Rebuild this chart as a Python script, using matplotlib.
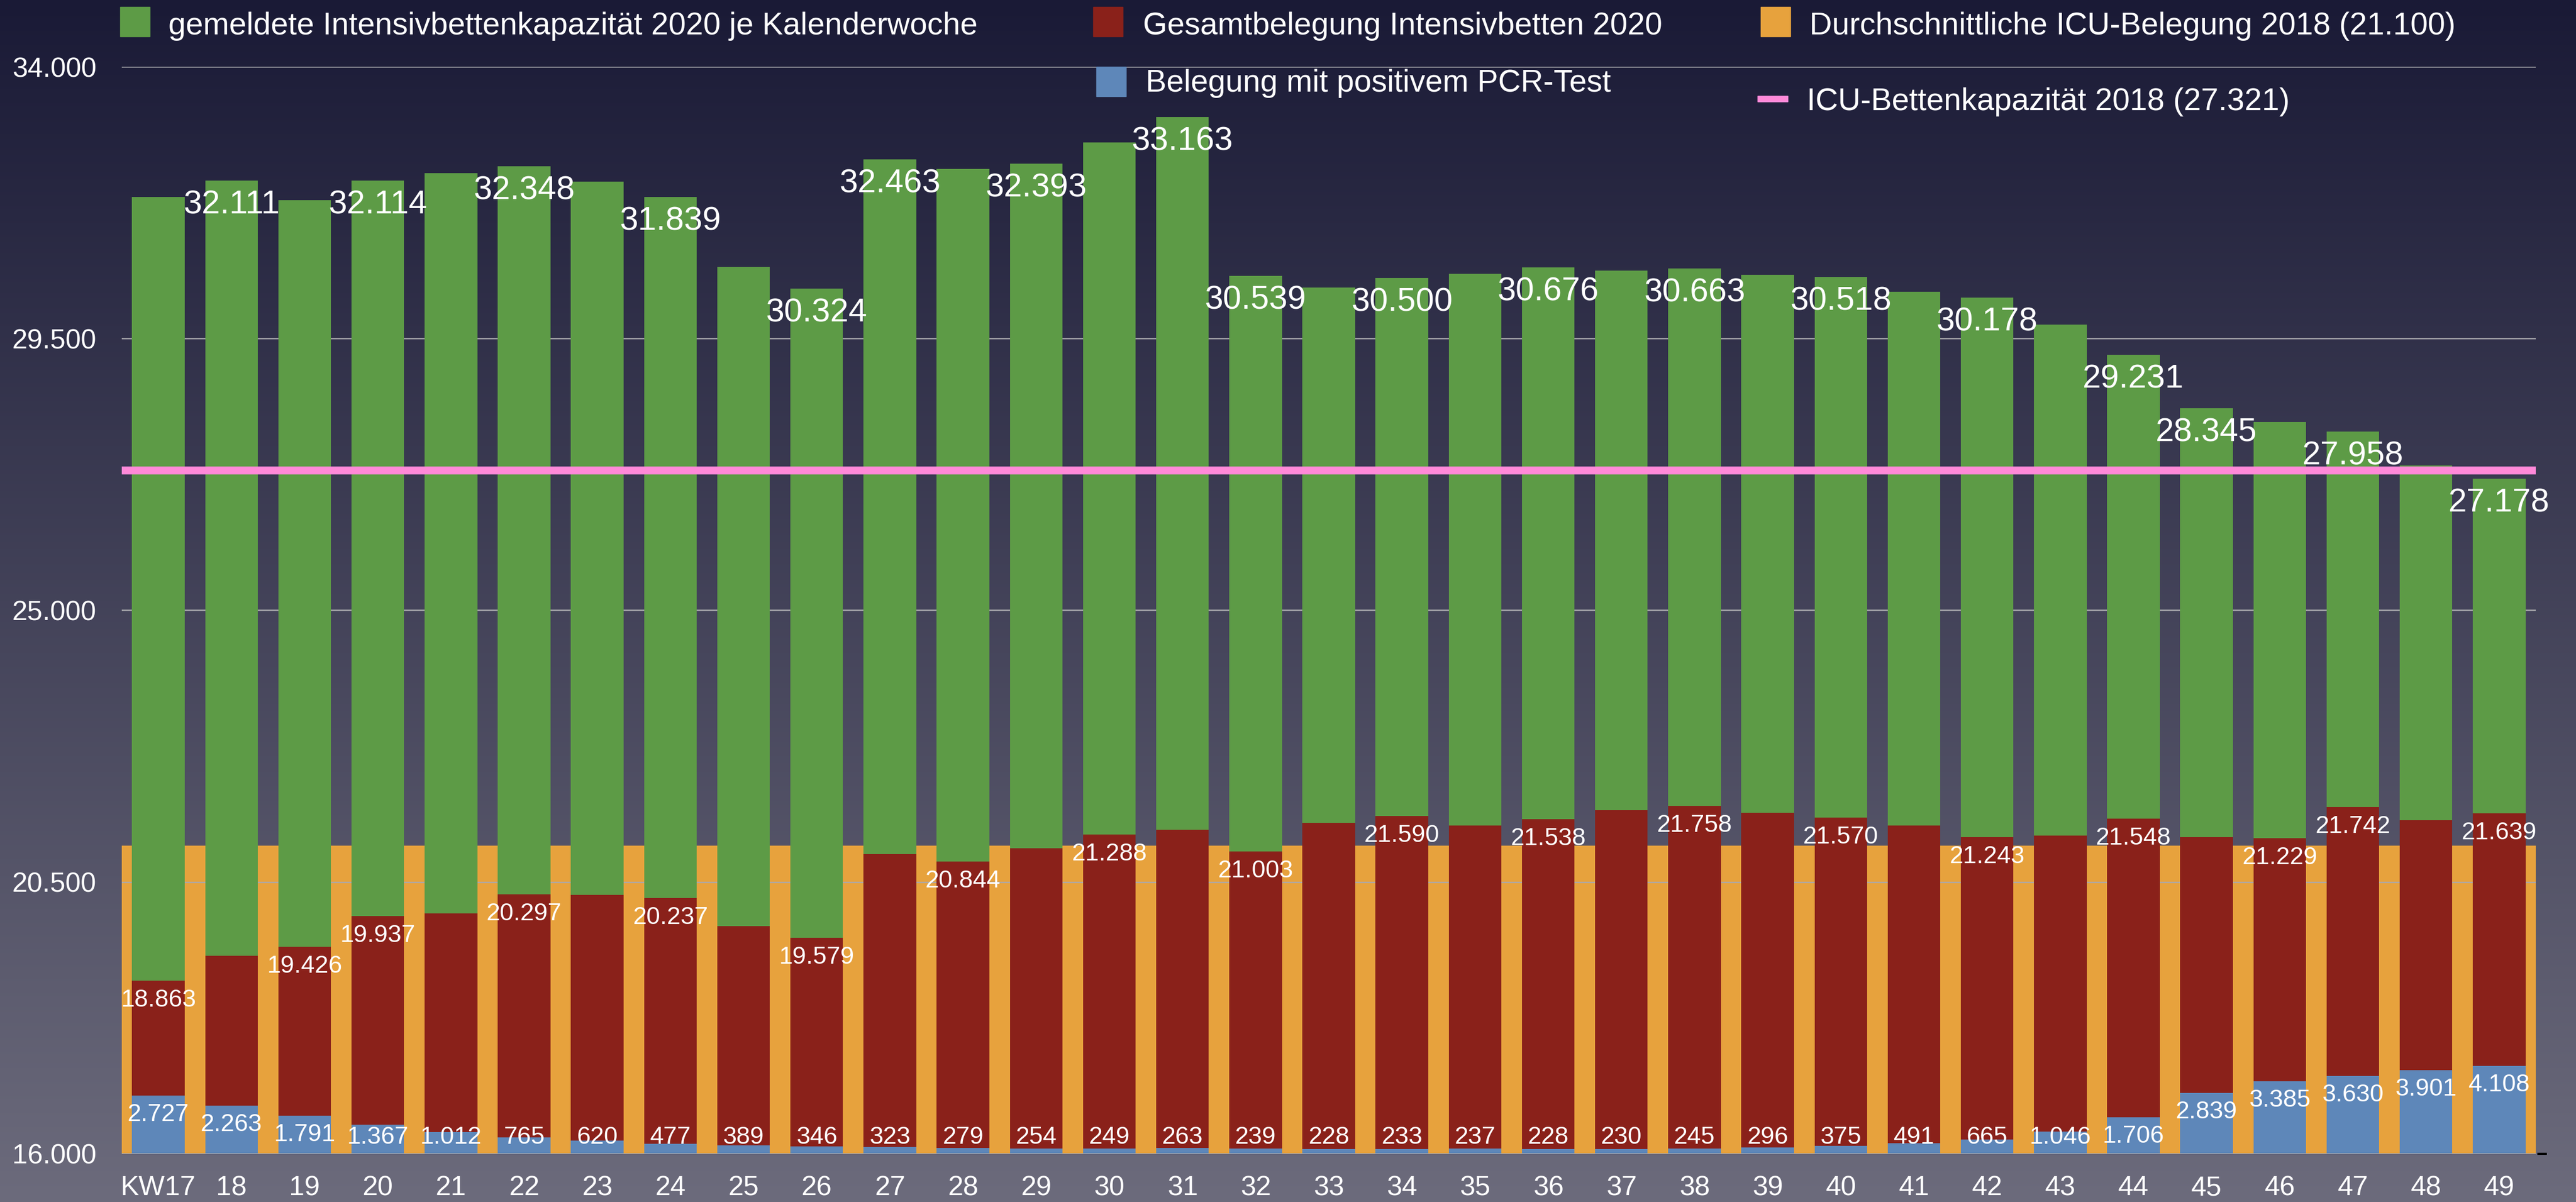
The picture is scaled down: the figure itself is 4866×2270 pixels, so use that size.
import numpy as np
import matplotlib
matplotlib.use("Agg")
import matplotlib.pyplot as plt
from matplotlib.patches import Rectangle

plt.rcParams['font.family'] = ['Liberation Sans', 'DejaVu Sans']

# ---- data -------------------------------------------------------------
weeks = list(range(17, 50))
week_labels = ["KW17"] + [str(w) for w in weeks[1:]]

# reported ICU bed capacity 2020 per calendar week
capacity_2020 = [31840, 32111, 31790, 32114, 32240, 32348, 32100, 31839, 30690, 30324,
                 32463, 32310, 32393, 32750, 33163, 30539, 30340, 30500, 30570, 30676,
                 30625, 30663, 30555, 30518, 30275, 30178, 29730, 29231, 28345, 28120,
                 27958, 27400, 27178]
# total ICU occupancy 2020
occupancy_2020 = [18863, 19280, 19426, 19937, 19980, 20297, 20290, 20237, 19770, 19579,
                  20960, 20844, 21060, 21288, 21370, 21003, 21480, 21590, 21440, 21538,
                  21690, 21758, 21650, 21570, 21440, 21243, 21270, 21548, 21245, 21229,
                  21742, 21525, 21639]
# occupancy with positive PCR test
pcr_positive = [2727, 2263, 1791, 1367, 1012, 765, 620, 477, 389, 346,
                323, 279, 254, 249, 263, 239, 228, 233, 237, 228,
                230, 245, 296, 375, 491, 665, 1046, 1706, 2839, 3385,
                3630, 3901, 4108]

avg_occupancy_2018 = 21100
capacity_2018 = 27321

capacity_label_weeks = [18, 20, 22, 24, 26, 27, 29, 31, 32, 34, 36, 38, 40, 42, 44, 45, 47, 49]
occupancy_label_weeks = [17, 19, 20, 22, 24, 26, 28, 30, 32, 34, 36, 38, 40, 42, 44, 46, 47, 49]

y_ticks = [16000, 20500, 25000, 29500, 34000]

# ---- style ------------------------------------------------------------
GREEN = "#5d9b46"
RED = "#8a211a"
ORANGE = "#e7a23d"
BLUE = "#5e87b9"
PINK = "#ff89d8"
GRID = "#a9a9ad"

W, H, DPI = 4866, 2270, 100
fig = plt.figure(figsize=(W / DPI, H / DPI), dpi=DPI)


def fx(px):
    return px / W


def fy(px):
    return 1 - px / H


def pt(px):
    return px * 72 / DPI


def de(v):
    return f"{v:,}".replace(",", ".")


# vertical background gradient
bg = fig.add_axes([0, 0, 1, 1], zorder=-10)
top_c = np.array([26, 26, 54]) / 255
bot_c = np.array([108, 107, 124]) / 255
t = np.linspace(0, 1, 512)[:, None]
grad = top_c[None, :] * (1 - t) + bot_c[None, :] * t
bg.imshow(grad[:, None, :], aspect="auto", extent=[0, 1, 0, 1])
bg.set_axis_off()

# plot area
left, right, top, bottom = 230, 4790, 126, 2179
ax = fig.add_axes([fx(left), fy(bottom), fx(right - left), (bottom - top) / H])
ax.set_facecolor("none")
x = np.arange(len(weeks))
bw = 0.72

ax.bar(x, [avg_occupancy_2018] * len(x), width=1.0, color=ORANGE, zorder=1)
ax.bar(x, capacity_2020, width=bw, color=GREEN, zorder=2)
ax.bar(x, occupancy_2020, width=bw, color=RED, zorder=3)
ax.axhline(capacity_2018, color=PINK, lw=pt(15), zorder=4)

ax.set_xlim(-0.5, len(x) - 0.5)
ax.set_ylim(16000, 34000)
ax.set_axisbelow("line")
ax.yaxis.grid(True, color=GRID, lw=pt(2.5))
ax.set_yticks(y_ticks)
ax.set_yticklabels([de(v) for v in y_ticks])
ax.set_xticks(x)
ax.set_xticklabels(week_labels)
ax.tick_params(axis="y", length=0, pad=pt(48), labelsize=37.5, labelcolor="white")
ax.tick_params(axis="x", length=0, pad=pt(40), labelsize=37.5, labelcolor="white")
for s in ax.spines.values():
    s.set_visible(False)

# value labels for capacity and occupancy
for i, w in enumerate(weeks):
    if w in capacity_label_weeks:
        ax.annotate(de(capacity_2020[i]), (x[i], capacity_2020[i]), xytext=(0, -pt(46)),
                    textcoords="offset points", ha="center", va="center",
                    color="white", fontsize=45, zorder=6)
    if w in occupancy_label_weeks:
        ax.annotate(de(occupancy_2020[i]), (x[i], occupancy_2020[i]), xytext=(0, -pt(37)),
                    textcoords="offset points", ha="center", va="center",
                    color="white", fontsize=33.5, zorder=6)

# PCR-positive bars on their own scale
ax2 = ax.twinx()
ax2.set_facecolor("none")
blue_max = 50800
ax2.set_ylim(0, blue_max)
ax2.bar(x, pcr_positive, width=bw, color=BLUE, zorder=2)
ax2.set_xlim(ax.get_xlim())
ax2.set_yticks([])
for s in ax2.spines.values():
    s.set_visible(False)
ppu = (bottom - top) / blue_max
for i, v in enumerate(pcr_positive):
    yl = max(v - 36 / ppu, 31 / ppu)
    ax2.text(x[i], yl, de(v), ha="center", va="center", color="white",
             fontsize=33.5, zorder=6)
# baseline with a short dark end mark
ax2.axhline(0, color="#b4b4b8", lw=pt(3), zorder=5)
ax2.plot([1.0006, 1.0045], [0, 0], transform=ax2.transAxes, color="black",
         lw=pt(4), clip_on=False, solid_capstyle="butt", zorder=5)

# legend
sq = 56
LEG_FS = 42.5
items = [
    (227, 13, GREEN, 318, 65, "gemeldete Intensivbettenkapazität 2020 je Kalenderwoche"),
    (2065, 13, RED, 2159, 65, "Gesamtbelegung Intensivbetten 2020"),
    (3326, 13, ORANGE, 3418, 65, "Durchschnittliche ICU-Belegung 2018 (21.100)"),
    (2071, 126, BLUE, 2164, 173, "Belegung mit positivem PCR-Test"),
]
for sx, sy, c, tx, ty, label in items:
    fig.patches.append(Rectangle((fx(sx), fy(sy + sq)), fx(sq), sq / H, color=c,
                                 transform=fig.transFigure, zorder=5))
    fig.text(fx(tx), fy(ty), label, color="white", fontsize=LEG_FS, va="baseline", ha="left")
fig.patches.append(Rectangle((fx(3320), fy(192)), fx(57), 11 / H, color=PINK,
                             transform=fig.transFigure, zorder=5))
fig.text(fx(3413), fy(208), "ICU-Bettenkapazität 2018 (27.321)", color="white",
         fontsize=LEG_FS, va="baseline", ha="left")

fig.savefig("out.png", dpi=DPI)
